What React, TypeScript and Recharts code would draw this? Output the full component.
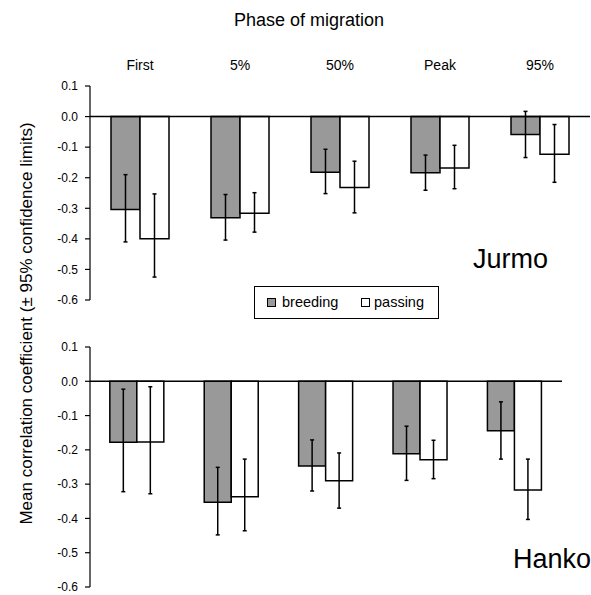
import { BarChart, Bar, XAxis, YAxis, ReferenceLine, ErrorBar } from "recharts";

const phases = ["First", "5%", "50%", "Peak", "95%"];
const yTicks = [-0.6, -0.5, -0.4, -0.3, -0.2, -0.1, 0, 0.1];

// Jurmo
const jurmoBreeding = [-0.304, -0.331, -0.182, -0.184, -0.059];
const jurmoBreedingLow = [-0.41, -0.404, -0.252, -0.241, -0.134];
const jurmoBreedingHigh = [-0.19, -0.255, -0.107, -0.126, 0.017];
const jurmoPassing = [-0.4, -0.316, -0.232, -0.168, -0.123];
const jurmoPassingLow = [-0.525, -0.378, -0.315, -0.236, -0.215];
const jurmoPassingHigh = [-0.253, -0.249, -0.146, -0.094, -0.026];

// Hanko
const hankoBreeding = [-0.178, -0.353, -0.247, -0.211, -0.144];
const hankoBreedingLow = [-0.322, -0.448, -0.32, -0.289, -0.227];
const hankoBreedingHigh = [-0.023, -0.251, -0.171, -0.131, -0.06];
const hankoPassing = [-0.177, -0.337, -0.29, -0.229, -0.317];
const hankoPassingLow = [-0.328, -0.436, -0.37, -0.284, -0.403];
const hankoPassingHigh = [-0.016, -0.227, -0.209, -0.172, -0.227];

const FONT = "'Liberation Sans', Arial, sans-serif";

function buildRows(
  breeding: number[],
  bLow: number[],
  bHigh: number[],
  passing: number[],
  pLow: number[],
  pHigh: number[]
) {
  return phases.map((phase, i) => ({
    phase,
    breeding: breeding[i],
    breedingErr: [breeding[i] - bLow[i], bHigh[i] - breeding[i]],
    passing: passing[i],
    passingErr: [passing[i] - pLow[i], pHigh[i] - passing[i]],
  }));
}

const jurmoData = buildRows(
  jurmoBreeding, jurmoBreedingLow, jurmoBreedingHigh,
  jurmoPassing, jurmoPassingLow, jurmoPassingHigh
);
const hankoData = buildRows(
  hankoBreeding, hankoBreedingLow, hankoBreedingHigh,
  hankoPassing, hankoPassingLow, hankoPassingHigh
);

function Panel({
  data,
  width,
  height,
  margin,
  showPhases,
}: {
  data: any[];
  width: number;
  height: number;
  margin: { top: number; right: number; bottom: number; left: number };
  showPhases: boolean;
}) {
  return (
    <BarChart
      width={width}
      height={height}
      data={data}
      margin={margin}
      barCategoryGap="21%"
      barGap={0}
      style={{ fontFamily: FONT }}
    >
      <XAxis
        dataKey="phase"
        orientation="top"
        hide={!showPhases}
        axisLine={false}
        tickLine={false}
        tickSize={0}
        tickMargin={16}
        height={30}
        tick={{ fill: "#000", fontSize: 14 }}
        interval={0}
      />
      <YAxis
        domain={[-0.6, 0.1]}
        ticks={yTicks}
        width={90}
        tickSize={5}
        tickMargin={7}
        interval={0}
        axisLine={{ stroke: "#000", strokeWidth: 1.2 }}
        tickLine={{ stroke: "#000", strokeWidth: 1.2 }}
        tick={{ fill: "#000", fontSize: 12 }}
        tickFormatter={(v: number) => v.toFixed(1)}
      />
      <Bar
        dataKey="breeding"
        fill="#999999"
        stroke="#000"
        strokeWidth={1.5}
        isAnimationActive={false}
      >
        <ErrorBar dataKey="breedingErr" direction="y" width={2} stroke="#000" strokeWidth={1.5} />
      </Bar>
      <Bar
        dataKey="passing"
        fill="#ffffff"
        stroke="#000"
        strokeWidth={1.5}
        isAnimationActive={false}
      >
        <ErrorBar dataKey="passingErr" direction="y" width={2} stroke="#000" strokeWidth={1.5} />
      </Bar>
      <ReferenceLine y={0} stroke="#000" strokeWidth={1.5} />
    </BarChart>
  );
}

function LegendBox() {
  const swatch = (left: number, fill: string) => (
    <span
      style={{
        position: "absolute",
        left,
        top: 11,
        width: 9,
        height: 9,
        border: "1px solid #000",
        background: fill,
        boxSizing: "border-box",
      }}
    />
  );
  const label = (left: number, text: string) => (
    <span style={{ position: "absolute", left, top: 7, fontSize: 14.5, lineHeight: "16px" }}>
      {text}
    </span>
  );
  return (
    <div
      style={{
        position: "absolute",
        left: 254,
        top: 286,
        width: 185,
        height: 33,
        border: "1.2px solid #000",
        fontFamily: FONT,
        boxSizing: "border-box",
      }}
    >
      {swatch(12, "#999999")}
      {label(27, "breeding")}
      {swatch(106, "#ffffff")}
      {label(119, "passing")}
    </div>
  );
}

export default function App() {
  return (
    <div
      style={{
        position: "absolute",
        left: 0,
        top: 0,
        width: 591,
        height: 595,
        background: "#fff",
        fontFamily: FONT,
        color: "#000",
        overflow: "hidden",
      }}
    >
      <div style={{ position: "absolute", left: 0, top: 0 }}>
        <Panel
          data={jurmoData}
          width={591}
          height={315}
          margin={{ top: 56, right: 1, bottom: 15, left: 0 }}
          showPhases
        />
      </div>
      <div style={{ position: "absolute", left: 0, top: 329 }}>
        <Panel
          data={hankoData}
          width={591}
          height={275}
          margin={{ top: 18, right: 29, bottom: 17, left: 0 }}
          showPhases={false}
        />
      </div>
      <svg
        width={591}
        height={595}
        style={{ position: "absolute", left: 0, top: 0, pointerEvents: "none" }}
      >
        <text x={309} y={26} textAnchor="middle" fontSize={18} fontFamily={FONT}>
          Phase of migration
        </text>
        <text x={473} y={268} fontSize={27} fontFamily={FONT}>
          Jurmo
        </text>
        <text x={513} y={568} fontSize={27} fontFamily={FONT}>
          Hanko
        </text>
        <text
          x={0}
          y={0}
          transform="translate(32,323.5) rotate(-90)"
          textAnchor="middle"
          fontSize={17}
          fontFamily={FONT}
        >
          Mean correlation coefficient (± 95% confidence limits)
        </text>
      </svg>
      <LegendBox />
    </div>
  );
}
